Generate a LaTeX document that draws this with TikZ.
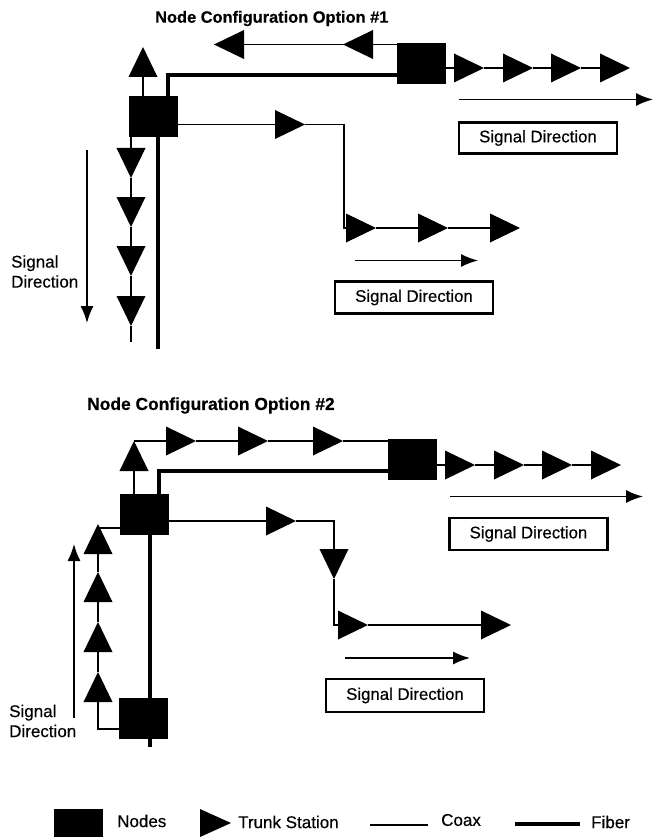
\documentclass[tikz,border=0pt]{standalone}
\usepackage{fontspec}
\setmainfont{Liberation Sans}
\newfontfamily\heavyfont[FakeBold=0.35]{Liberation Sans}
\newfontfamily\ttlfont[FakeBold=0.5]{Liberation Sans Bold}
\usetikzlibrary{shapes.geometric,arrows.meta}
\tikzset{
 tri/.style={isosceles triangle,isosceles triangle stretches,fill=black,draw=none,inner sep=0pt,outer sep=0pt,minimum width=29pt,minimum height=30pt,anchor=apex},
 trir/.style={tri,shape border rotate=0},
 tril/.style={tri,shape border rotate=180},
 triu/.style={tri,shape border rotate=90},
 trid/.style={tri,shape border rotate=270},
 hub/.style={rectangle,fill=black,draw=none,inner sep=0pt,outer sep=0pt,minimum width=49pt,minimum height=41pt},
 coax/.style={draw=black,line width=1.8pt},
 fiber/.style={draw=black,line width=4.2pt},
 sig/.style={draw=black,line width=1.6pt,-{Latex[length=17pt,width=13pt]}},
 sigbox/.style={rectangle,draw=black,line width=2.6pt,fill=white,inner sep=0pt,minimum width=158pt,minimum height=31pt,font=\heavyfont\fontsize{16.8}{20}\selectfont},
 lab/.style={inner sep=0pt,align=left,font=\heavyfont\fontsize{17}{20}\selectfont},
 ttl/.style={inner sep=0pt,font=\ttlfont\fontsize{#1}{20}\selectfont}
}
\begin{document}
\begin{tikzpicture}[x=1pt,y=-1pt]
\useasboundingbox (0,0) rectangle (654,837);
% ---------- Option 1
\node[ttl=16.4,anchor=west] (t1) at (155,18.5) {Node Configuration Option \#1};
\node[hub] (a1) at (153.5,116.5) {};
\node[hub] (a2) at (421.5,63.5) {};
\node[triu] (au) at (143,47) {};
\node[tril] (al1) at (214,44.5) {};
\node[tril] (al2) at (343,44.5) {};
\node[trir] (ar1) at (484,68) {};
\node[trir] (ar2) at (533,68) {};
\node[trir] (ar3) at (581,68) {};
\node[trir] (ar4) at (630,68) {};
\node[trir] (ab0) at (305,124.5) {};
\node[trir] (ab1) at (376,228) {};
\node[trir] (ab2) at (448,228) {};
\node[trir] (ab3) at (520,228) {};
\node[trid] (ad1) at (131,178) {};
\node[trid] (ad2) at (131,227) {};
\node[trid] (ad3) at (131,276) {};
\node[trid] (ad4) at (131,326) {};
\coordinate (aend) at (131,342);
\coordinate (afib) at (158,349);
\coordinate (abend) at (344,124.5);
\coordinate (aturn) at (168,75);
\draw[coax] (au.lower side) -- (au.lower side |- a1.north);
\draw[fiber,line join=miter] (aturn |- a1.north) -- (aturn) -- (a2.west |- aturn);
\draw[fiber] (afib |- a1.south) -- (afib);
\draw[coax] (a2.west |- al2.apex) -- (al2.apex) (al2.lower side) -- (al1.apex);
\draw[coax] (a2.east |- ar1.apex) -- (ar1.lower side) (ar1.apex) -- (ar2.lower side) (ar2.apex) -- (ar3.lower side) (ar3.apex) -- (ar4.lower side);
\draw[coax] (a1.east |- ab0.apex) -- (ab0.lower side);
\draw[coax,line join=miter] (ab0.apex) -- (abend) -- (abend |- ab1.apex) -- (ab1.lower side);
\draw[coax] (ab1.apex) -- (ab2.lower side) (ab2.apex) -- (ab3.lower side);
\draw[coax] (ad1.lower side |- a1.south) -- (ad1.lower side) (ad1.apex) -- (ad2.lower side) (ad2.apex) -- (ad3.lower side) (ad3.apex) -- (ad4.lower side) (ad4.apex) -- (aend);
\coordinate (s1a) at (459,99.5); \coordinate (s1b) at (653,99.5);
\draw[sig] (s1a) -- (s1b);
\node[sigbox] (b1) at (538,138) {Signal Direction};
\coordinate (s2a) at (355,260.5); \coordinate (s2b) at (478,260.5);
\draw[sig] (s2a) -- (s2b);
\node[sigbox,minimum height=32pt] (b2) at (414,297.5) {Signal Direction};
\coordinate (s3a) at (87,150); \coordinate (s3b) at (87,323);
\draw[sig] (s3a) -- (s3b);
\node[lab,anchor=west] (l1) at (11,271.5) {Signal\\Direction};
% ---------- Option 2
\node[ttl=17.4,anchor=west] (t2) at (87,405.5) {Node Configuration Option \#2};
\node[hub] (c1) at (144.5,514) {};
\node[hub] (c2) at (412,459.5) {};
\node[hub] (c3) at (143.5,718) {};
\node[triu] (cu) at (134,441) {};
\node[trir] (ct1) at (196,441) {};
\node[trir] (ct2) at (268,441) {};
\node[trir] (ct3) at (343,441) {};
\node[trir] (cr1) at (475,465) {};
\node[trir] (cr2) at (524,465) {};
\node[trir] (cr3) at (572,465) {};
\node[trir] (cr4) at (621,465) {};
\node[trir] (cb0) at (296,521) {};
\node[trid] (cb1) at (334,579) {};
\node[trir] (cb2) at (368,625) {};
\node[trir] (cb3) at (511,625) {};
\node[triu] (cl1) at (98,524) {};
\node[triu] (cl2) at (98,572) {};
\node[triu] (cl3) at (98,622) {};
\node[triu] (cl4) at (98,672) {};
\coordinate (cturn) at (159,471);
\coordinate (cfib) at (150,747);
\coordinate (cbend) at (334,521);
\coordinate (cstart) at (120,528);
\coordinate (cbot) at (98,729);
\draw[coax] (cu.lower side) -- (cu.lower side |- c1.north);
\draw[coax] (cu.apex) -- (ct1.lower side) (ct1.apex) -- (ct2.lower side) (ct2.apex) -- (ct3.lower side) (ct3.apex) -- (c2.west |- ct3.apex);
\draw[fiber,line join=miter] (cturn |- c1.north) -- (cturn) -- (c2.west |- cturn);
\draw[fiber] (cfib |- c1.south) -- (cfib |- c3.north);
\draw[fiber] (cfib |- c3.south) -- (cfib);
\draw[coax] (c2.east |- cr1.apex) -- (cr1.lower side) (cr1.apex) -- (cr2.lower side) (cr2.apex) -- (cr3.lower side) (cr3.apex) -- (cr4.lower side);
\draw[coax] (c1.east |- cb0.apex) -- (cb0.lower side);
\draw[coax,line join=miter] (cb0.apex) -- (cbend) -- (cb1.lower side);
\draw[coax,line join=miter] (cb1.apex) -- (cb1.apex |- cb2.apex) -- (cb2.lower side);
\draw[coax] (cb2.apex) -- (cb3.lower side);
\draw[coax] (cstart) -- (cstart -| cl1.lower side);
\draw[coax] (cl1.lower side) -- (cl2.apex) (cl2.lower side) -- (cl3.apex) (cl3.lower side) -- (cl4.apex);
\draw[coax,line join=miter] (cl4.lower side) -- (cbot) -- (cbot -| c3.west);
\coordinate (s4a) at (450,496.5); \coordinate (s4b) at (643,496.5);
\draw[sig] (s4a) -- (s4b);
\node[sigbox,minimum height=32pt] (b3) at (528.5,534) {Signal Direction};
\coordinate (s5a) at (345,658); \coordinate (s5b) at (470,658);
\draw[sig] (s5a) -- (s5b);
\node[sigbox,minimum height=33pt] (b4) at (405,695.5) {Signal Direction};
\coordinate (s6a) at (74,718); \coordinate (s6b) at (74,544);
\draw[sig] (s6a) -- (s6b);
\node[lab,anchor=west] (l2) at (9,721) {Signal\\Direction};
% ---------- Legend
\node[hub,minimum height=28pt] (k1) at (78.5,823) {};
\node[lab,anchor=west] (k1t) at (117,821) {Nodes};
\node[trir,minimum height=31pt,minimum width=28pt] (k2) at (231,823) {};
\node[lab,anchor=west] (k2t) at (238,822) {Trunk Station};
\coordinate (k3a) at (370,825); \coordinate (k3b) at (428,825);
\draw[coax] (k3a) -- (k3b);
\node[lab,anchor=west] (k3t) at (441,820) {Coax};
\coordinate (k4a) at (515,824); \coordinate (k4b) at (580,824);
\draw[fiber] (k4a) -- (k4b);
\node[lab,anchor=west] (k4t) at (591,822) {Fiber};
\end{tikzpicture}
\end{document}
